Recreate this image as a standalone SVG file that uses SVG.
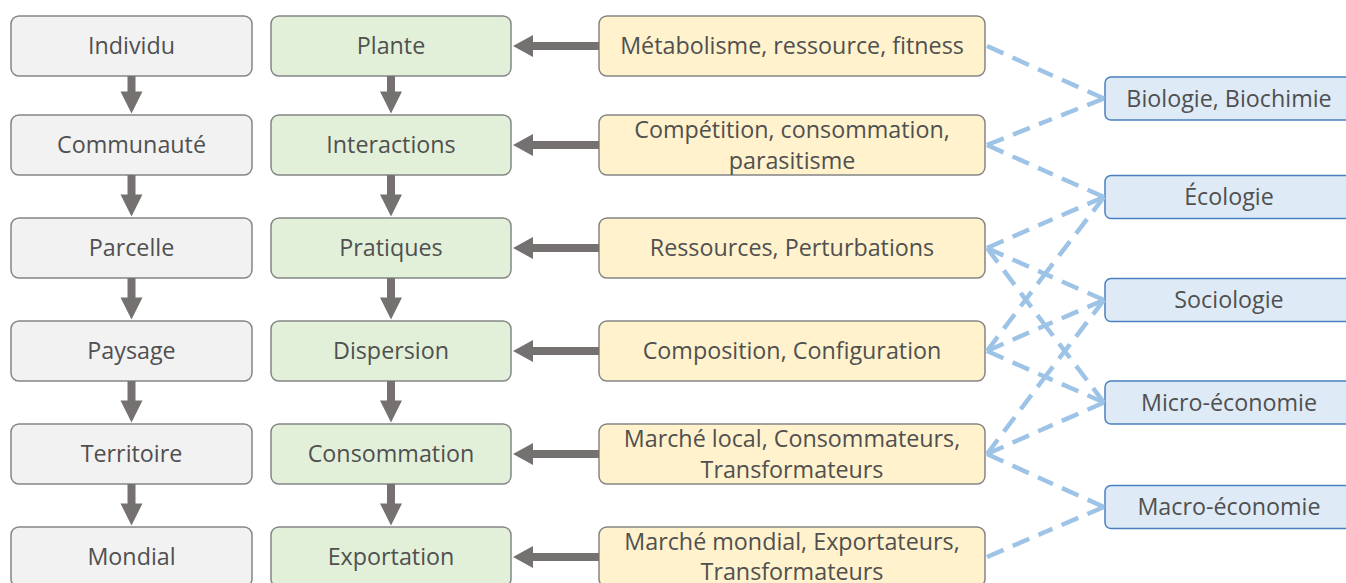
<svg xmlns="http://www.w3.org/2000/svg" width="1346" height="583" viewBox="0 0 1346 583">
<style>
  text { font-family: "Open Sans", "Liberation Sans", sans-serif; font-size: 23.3px; fill: #505050; text-anchor: middle; }
  .grey rect { fill: #F2F2F2; stroke: #858585; stroke-width: 1.5; }
  .green rect { fill: #E2F0D9; stroke: #858585; stroke-width: 1.5; }
  .yellow rect { fill: #FFF2CC; stroke: #858585; stroke-width: 1.5; }
  .blue rect { fill: #DEEBF7; stroke: #4A80C2; stroke-width: 1.5; }
  .thick { fill: #767171; stroke: none; }
  .dash { fill: none; stroke: #9DC3E6; stroke-width: 4.5; stroke-dasharray: 18 10; }
</style>
<rect width="1346" height="583" fill="#FFFFFF"/>

<!-- Grey column -->
<g id="individu" class="grey"><rect x="11" y="16" width="241" height="60" rx="8"/><text x="131.5" y="54">Individu</text></g>
<g id="communaute" class="grey"><rect x="11" y="115" width="241" height="60" rx="8"/><text x="131.5" y="153">Communauté</text></g>
<g id="parcelle" class="grey"><rect x="11" y="218" width="241" height="60" rx="8"/><text x="131.5" y="256">Parcelle</text></g>
<g id="paysage" class="grey"><rect x="11" y="321" width="241" height="60" rx="8"/><text x="131.5" y="359">Paysage</text></g>
<g id="territoire" class="grey"><rect x="11" y="424" width="241" height="60" rx="8"/><text x="131.5" y="462">Territoire</text></g>
<g id="mondial" class="grey"><rect x="11" y="527" width="241" height="60" rx="8"/><text x="131.5" y="565">Mondial</text></g>

<!-- Green column -->
<g id="plante" class="green"><rect x="271" y="16" width="240" height="60" rx="8"/><text x="391" y="54">Plante</text></g>
<g id="interactions" class="green"><rect x="271" y="115" width="240" height="60" rx="8"/><text x="391" y="153">Interactions</text></g>
<g id="pratiques" class="green"><rect x="271" y="218" width="240" height="60" rx="8"/><text x="391" y="256">Pratiques</text></g>
<g id="dispersion" class="green"><rect x="271" y="321" width="240" height="60" rx="8"/><text x="391" y="359">Dispersion</text></g>
<g id="consommation" class="green"><rect x="271" y="424" width="240" height="60" rx="8"/><text x="391" y="462">Consommation</text></g>
<g id="exportation" class="green"><rect x="271" y="527" width="240" height="60" rx="8"/><text x="391" y="565">Exportation</text></g>

<!-- Yellow column -->
<g id="metabolisme" class="yellow"><rect x="599" y="16" width="386" height="60" rx="8"/><text x="792" y="54">Métabolisme, ressource, fitness</text></g>
<g id="competition" class="yellow"><rect x="599" y="115" width="386" height="60" rx="8"/><text x="792" y="137.5">Compétition, consommation,</text><text x="792" y="168.5">parasitisme</text></g>
<g id="ressources" class="yellow"><rect x="599" y="218" width="386" height="60" rx="8"/><text x="792" y="256">Ressources, Perturbations</text></g>
<g id="composition" class="yellow"><rect x="599" y="321" width="386" height="60" rx="8"/><text x="792" y="359">Composition, Configuration</text></g>
<g id="marche-local" class="yellow"><rect x="599" y="424" width="386" height="60" rx="8"/><text x="792" y="446.5">Marché local, Consommateurs,</text><text x="792" y="477.5">Transformateurs</text></g>
<g id="marche-mondial" class="yellow"><rect x="599" y="527" width="386" height="60" rx="8"/><text x="792" y="549.5">Marché mondial, Exportateurs,</text><text x="792" y="580">Transformateurs</text></g>

<!-- Blue column -->
<g id="biologie" class="blue"><rect x="1105" y="77" width="248" height="43" rx="6"/><text x="1229" y="106.5">Biologie, Biochimie</text></g>
<g id="ecologie" class="blue"><rect x="1105" y="175.5" width="248" height="43" rx="6"/><text x="1229" y="205">Écologie</text></g>
<g id="sociologie" class="blue"><rect x="1105" y="278.5" width="248" height="43" rx="6"/><text x="1229" y="308">Sociologie</text></g>
<g id="micro" class="blue"><rect x="1105" y="381" width="248" height="43" rx="6"/><text x="1229" y="410.5">Micro-économie</text></g>
<g id="macro" class="blue"><rect x="1105" y="485.5" width="248" height="43" rx="6"/><text x="1229" y="515">Macro-économie</text></g>

<!-- Connectors -->
<g id="connectors">
  <!-- vertical grey arrows -->
  <polygon class="thick" points="127.5,76 135.5,76 135.5,91.5 142.5,91.5 131.5,113.5 120.5,91.5 127.5,91.5"/>
  <polygon class="thick" points="127.5,175 135.5,175 135.5,194.5 142.5,194.5 131.5,216.5 120.5,194.5 127.5,194.5"/>
  <polygon class="thick" points="127.5,278 135.5,278 135.5,297.5 142.5,297.5 131.5,319.5 120.5,297.5 127.5,297.5"/>
  <polygon class="thick" points="127.5,381 135.5,381 135.5,400.5 142.5,400.5 131.5,422.5 120.5,400.5 127.5,400.5"/>
  <polygon class="thick" points="127.5,484 135.5,484 135.5,503.5 142.5,503.5 131.5,525.5 120.5,503.5 127.5,503.5"/>
  <!-- vertical green arrows -->
  <polygon class="thick" points="387,76 395,76 395,91.5 402,91.5 391,113.5 380,91.5 387,91.5"/>
  <polygon class="thick" points="387,175 395,175 395,194.5 402,194.5 391,216.5 380,194.5 387,194.5"/>
  <polygon class="thick" points="387,278 395,278 395,297.5 402,297.5 391,319.5 380,297.5 387,297.5"/>
  <polygon class="thick" points="387,381 395,381 395,400.5 402,400.5 391,422.5 380,400.5 387,400.5"/>
  <polygon class="thick" points="387,484 395,484 395,503.5 402,503.5 391,525.5 380,503.5 387,503.5"/>
  <!-- horizontal arrows yellow -> green -->
  <polygon class="thick" points="599,42 533,42 533,35 513,46 533,57 533,50 599,50"/>
  <polygon class="thick" points="599,141 533,141 533,134 513,145 533,156 533,149 599,149"/>
  <polygon class="thick" points="599,244 533,244 533,237 513,248 533,259 533,252 599,252"/>
  <polygon class="thick" points="599,347 533,347 533,340 513,351 533,362 533,355 599,355"/>
  <polygon class="thick" points="599,450 533,450 533,443 513,454 533,465 533,458 599,458"/>
  <polygon class="thick" points="599,553 533,553 533,546 513,557 533,568 533,561 599,561"/>
  <!-- dashed links yellow <-> blue -->
  <path class="dash" d="M987,46 L1045,72.25 M1104,98.5 L1045,72.25"/>
  <path class="dash" d="M987,145 L1045,121.75 M1104,98.5 L1045,121.75"/>
  <path class="dash" d="M987,145 L1045,171 M1104,197 L1045,171"/>
  <path class="dash" d="M987,248 L1045,222.5 M1104,197 L1045,222.5"/>
  <path class="dash" d="M987,248 L1045,274 M1104,300 L1045,274"/>
  <path class="dash" d="M987,248 L1045,325.25 M1104,402.5 L1045,325.25"/>
  <path class="dash" d="M987,351 L1045,274 M1104,197 L1045,274"/>
  <path class="dash" d="M987,351 L1045,325.5 M1104,300 L1045,325.5"/>
  <path class="dash" d="M987,351 L1045,376.75 M1104,402.5 L1045,376.75"/>
  <path class="dash" d="M987,454 L1045,377 M1104,300 L1045,377"/>
  <path class="dash" d="M987,454 L1045,428.25 M1104,402.5 L1045,428.25"/>
  <path class="dash" d="M987,454 L1045,480.5 M1104,507 L1045,480.5"/>
  <path class="dash" d="M987,557 L1045,532 M1104,507 L1045,532"/>
</g>
</svg>
